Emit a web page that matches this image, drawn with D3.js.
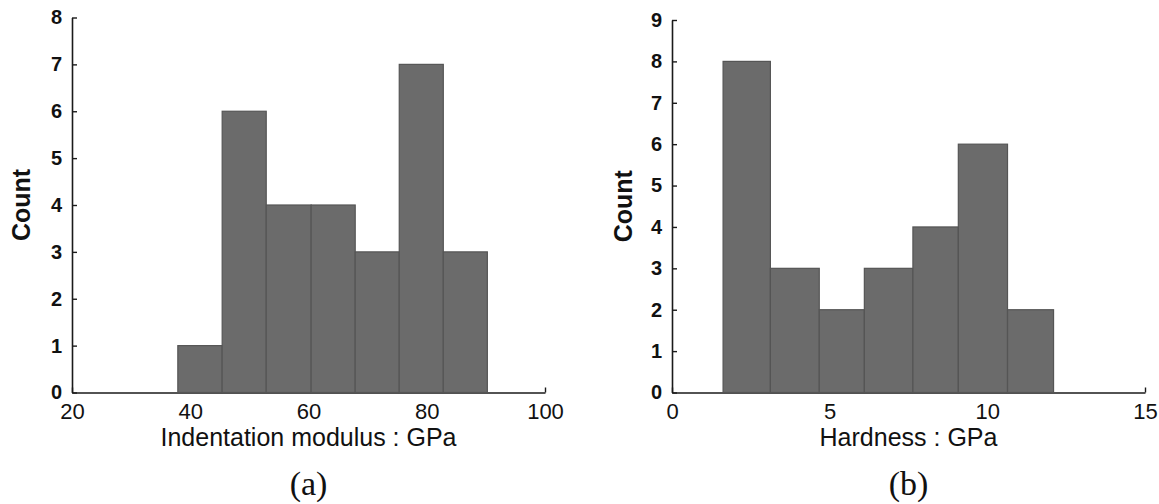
<!DOCTYPE html>
<html>
<head>
<meta charset="utf-8">
<script src="https://cdn.jsdelivr.net/npm/d3@7"></script>
<style>
  html, body { margin: 0; padding: 0; background: #fff; }
  svg { display: block; }
  .tick text { font-family: "Liberation Sans", Arial, sans-serif; fill: #111; }
</style>
</head>
<body>
<svg id="chart" width="1159" height="504"></svg>
<script>
// ---- data ----
const modulusBinEdges = [37.9, 45.4, 52.85, 60.45, 67.9, 75.35, 82.8, 90.25];
const modulusCounts   = [1, 6, 4, 4, 3, 7, 3];
const modulusXTicks   = [20, 40, 60, 80, 100];
const modulusYTicks   = [0, 1, 2, 3, 4, 5, 6, 7, 8];

const hardnessBinEdges = [1.62, 3.12, 4.67, 6.1, 7.64, 9.08, 10.64, 12.1];
const hardnessCounts   = [8, 3, 2, 3, 4, 6, 2];
const hardnessXTicks   = [0, 5, 10, 15];
const hardnessYTicks   = [0, 1, 2, 3, 4, 5, 6, 7, 8, 9];

const panels = [
  { edges: modulusBinEdges, counts: modulusCounts, xTicks: modulusXTicks, yTicks: modulusYTicks,
    xDomain: [20, 100], yDomain: [0, 8], x0: 72, x1: 545, y0: 392.5, y1: 17.5,
    xLabel: "Indentation modulus : GPa", yLabel: "Count", tag: "(a)", yLabelX: 21 },
  { edges: hardnessBinEdges, counts: hardnessCounts, xTicks: hardnessXTicks, yTicks: hardnessYTicks,
    xDomain: [0, 15], yDomain: [0, 9], x0: 672, x1: 1145, y0: 392.5, y1: 20,
    xLabel: "Hardness : GPa", yLabel: "Count", tag: "(b)", yLabelX: 623 }
];

const svg = d3.select("#chart");
const barFill = "#6b6b6b", barEdge = "#555555", axisColor = "#1a1a1a";

panels.forEach(p => {
  const x = d3.scaleLinear().domain(p.xDomain).range([p.x0, p.x1]);
  const y = d3.scaleLinear().domain(p.yDomain).range([p.y0, p.y1]);
  const g = svg.append("g");

  // x axis (ticks inward)
  const xa = g.append("g").attr("transform", `translate(0,${p.y0})`)
    .call(d3.axisBottom(x).tickValues(p.xTicks).tickSizeInner(-5).tickSizeOuter(0).tickPadding(11));
  xa.select(".domain").attr("stroke", axisColor).attr("stroke-width", 1.6);
  xa.selectAll(".tick line").attr("stroke", axisColor).attr("stroke-width", 1.4);
  xa.selectAll(".tick text").attr("font-size", 22).attr("dy", "0.71em");

  // y axis (ticks inward)
  const ya = g.append("g").attr("transform", `translate(${p.x0},0)`)
    .call(d3.axisLeft(y).tickValues(p.yTicks).tickSizeInner(-5).tickSizeOuter(0).tickPadding(10));
  ya.select(".domain").attr("stroke", axisColor).attr("stroke-width", 1.6);
  ya.selectAll(".tick line").attr("stroke", axisColor).attr("stroke-width", 1.4);
  ya.selectAll(".tick text").attr("font-size", 20).attr("font-weight", "bold");

  // bars
  const bins = p.counts.map((c, i) => ({ a: p.edges[i], b: p.edges[i + 1], c }));
  g.append("g").selectAll("rect").data(bins).join("rect")
    .attr("x", d => x(d.a))
    .attr("y", d => y(d.c))
    .attr("width", d => x(d.b) - x(d.a))
    .attr("height", d => y(0) - y(d.c))
    .attr("fill", barFill)
    .attr("stroke", barEdge)
    .attr("stroke-width", 1.2);

  // axis titles
  const cx = (p.x0 + p.x1) / 2;
  g.append("text").attr("x", cx).attr("y", 446)
    .attr("text-anchor", "middle")
    .attr("font-family", "Liberation Sans, Arial, sans-serif")
    .attr("font-size", 25).attr("fill", "#111").text(p.xLabel);
  g.append("text")
    .attr("transform", `translate(${p.yLabelX},${(p.y0 + p.y1) / 2}) rotate(-90)`)
    .attr("text-anchor", "middle").attr("dy", "0.35em")
    .attr("font-family", "Liberation Sans, Arial, sans-serif")
    .attr("font-size", 25).attr("font-weight", "bold").attr("fill", "#111").text(p.yLabel);
  g.append("text").attr("x", cx).attr("y", 495)
    .attr("text-anchor", "middle")
    .attr("font-family", "Liberation Serif, Times New Roman, serif")
    .attr("font-size", 34).attr("fill", "#111").text(p.tag);
});
</script>
</body>
</html>
